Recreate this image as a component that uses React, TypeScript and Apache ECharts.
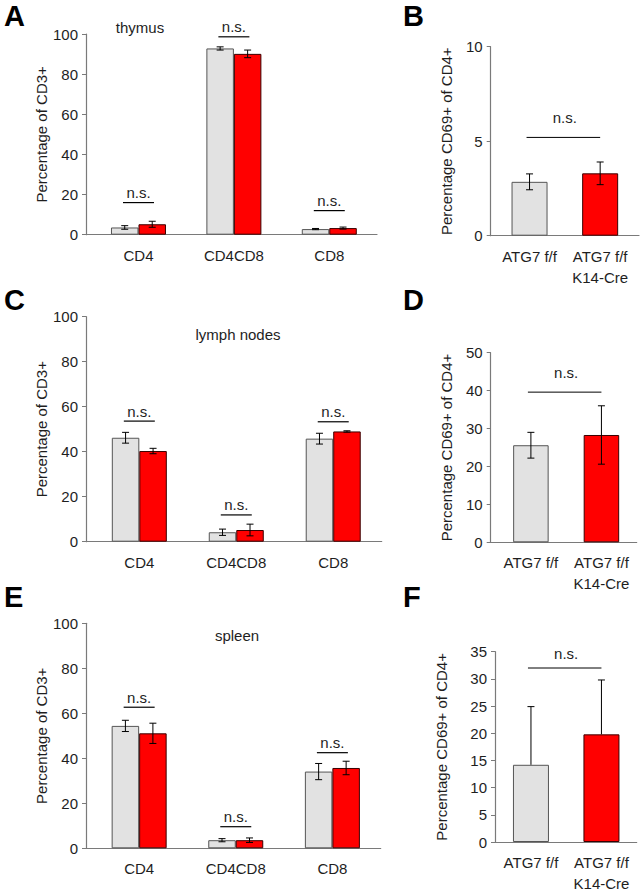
import React, { useEffect, useRef } from "react";
import * as echarts from "echarts";

// ---------- data ----------
const cellTypes = ["CD4", "CD4CD8", "CD8"];
const genotypes = ["ATG7 f/f", "ATG7 f/f\nK14-Cre"];

const thymusCtrl = [3.6, 92.8, 2.8];
const thymusCtrlErr = [0.9, 0.8, 0.3];
const thymusKO = [5.2, 90.1, 3.3];
const thymusKOErr = [1.5, 1.9, 0.5];
const thymusSig = [16, 98.6, 12];

const lymphCtrl = [46.2, 4.2, 45.8];
const lymphCtrlErr = [2.4, 1.4, 2.4];
const lymphKO = [40.3, 5.2, 49.0];
const lymphKOErr = [1.2, 2.6, 0.3];
const lymphSig = [53.6, 11.9, 53.3];

const spleenCtrl = [54.4, 3.6, 34.1];
const spleenCtrlErr = [2.5, 0.7, 3.6];
const spleenKO = [51.1, 3.6, 35.7];
const spleenKOErr = [4.5, 1.0, 3.0];
const spleenSig = [62.7, 9.6, 42.5];

const cd69Thymus = [2.85, 3.3];
const cd69ThymusErr = [0.42, 0.6];
const cd69ThymusSig = 5.2;

const cd69Lymph = [25.6, 28.3];
const cd69LymphErr = [3.4, 7.7];
const cd69LymphSig = 39.6;

const cd69Spleen = [14.2, 19.8];
const cd69SpleenErr = [10.7, 10.0];
const cd69SpleenSig = 32.0;

// ---------- styles ----------
const FONT = "Liberation Sans, Arial, Helvetica, sans-serif";
const TXT = "#1e1e1e";
const AXIS = "#7a7a7a";
const GREY = "#e2e2e2";
const GREY_B = "#555555";
const RED = "#ff0000";
const RED_B = "#3a0000";

type Group = {
  kind: "group";
  left: number; top: number; width: number; height: number;
  xMin: number; xMax: number; yMax: number; interval: number;
  ctrl: number[]; ctrlErr: number[]; ko: number[]; koErr: number[]; sig: number[];
  nameGap: number;
};
type Pair = {
  kind: "pair";
  left: number; top: number; width: number; height: number;
  xMin: number; xMax: number; yMax: number; interval: number;
  vals: number[]; errs: number[]; sig: number; oneSided: boolean;
  nameGap: number; textUp: number; barWidth: number;
};

const panels: (Group | Pair)[] = [
  { kind: "group", left: 86, top: 34, width: 291, height: 200.7, xMin: -0.55, xMax: 2.5, yMax: 100, interval: 20,
    ctrl: thymusCtrl, ctrlErr: thymusCtrlErr, ko: thymusKO, koErr: thymusKOErr, sig: thymusSig, nameGap: 37 },
  { kind: "pair", left: 490.7, top: 46.7, width: 148.3, height: 189, xMin: -0.55, xMax: 1.55, yMax: 10, interval: 5,
    vals: cd69Thymus, errs: cd69ThymusErr, sig: cd69ThymusSig, oneSided: false, nameGap: 37, textUp: 20, barWidth: 36 },
  { kind: "group", left: 86, top: 316.7, width: 295.7, height: 225, xMin: -0.55, xMax: 2.5, yMax: 100, interval: 20,
    ctrl: lymphCtrl, ctrlErr: lymphCtrlErr, ko: lymphKO, koErr: lymphKOErr, sig: lymphSig, nameGap: 37 },
  { kind: "pair", left: 490.7, top: 352.7, width: 146, height: 189.6, xMin: -0.57, xMax: 1.5, yMax: 50, interval: 10,
    vals: cd69Lymph, errs: cd69LymphErr, sig: cd69LymphSig, oneSided: false, nameGap: 37, textUp: 20, barWidth: 35.5 },
  { kind: "group", left: 86, top: 623.3, width: 294.7, height: 225, xMin: -0.55, xMax: 2.5, yMax: 100, interval: 20,
    ctrl: spleenCtrl, ctrlErr: spleenCtrlErr, ko: spleenKO, koErr: spleenKOErr, sig: spleenSig, nameGap: 37 },
  { kind: "pair", left: 495, top: 651.7, width: 141.7, height: 197.3, xMin: -0.51, xMax: 1.5, yMax: 35, interval: 5,
    vals: cd69Spleen, errs: cd69SpleenErr, sig: cd69SpleenSig, oneSided: true, nameGap: 46, textUp: 15, barWidth: 36 },
];

const panelLetters = [
  { t: "A", x: 4, y: 16 }, { t: "B", x: 403, y: 16 },
  { t: "C", x: 4, y: 300 }, { t: "D", x: 403, y: 300 },
  { t: "E", x: 4, y: 597 }, { t: "F", x: 403, y: 597 },
];
const tissueTitles = [
  { t: "thymus", x: 140, y: 27 },
  { t: "lymph nodes", x: 238, y: 334 },
  { t: "spleen", x: 237, y: 635 },
];

function errRender(offset: number) {
  return (params: any, api: any) => {
    const x = api.value(0);
    const lo = api.coord([x, api.value(1)]);
    const hi = api.coord([x, api.value(2)]);
    const cx = lo[0] + offset;
    const cap = 3.5;
    const st = { stroke: "#000", lineWidth: 1 };
    const children: any[] = [
      { type: "line", shape: { x1: cx, y1: lo[1], x2: cx, y2: hi[1] }, style: st },
      { type: "line", shape: { x1: cx - cap, y1: hi[1], x2: cx + cap, y2: hi[1] }, style: st },
    ];
    if (api.value(1) !== api.value(3)) {
      children.push({ type: "line", shape: { x1: cx - cap, y1: lo[1], x2: cx + cap, y2: lo[1] }, style: st });
    }
    return { type: "group", children };
  };
}

function buildOption() {
  const grid: any[] = [];
  const xAxis: any[] = [];
  const yAxis: any[] = [];
  const series: any[] = [];

  panels.forEach((p, i) => {
    grid.push({ left: p.left, top: p.top, width: p.width, height: p.height, containLabel: false });
    const cats = p.kind === "group" ? cellTypes : genotypes;
    xAxis.push({
      type: "value", gridIndex: i, min: p.xMin, max: p.xMax,
      axisLine: { show: true, onZero: false, lineStyle: { color: AXIS, width: 1.2 } },
      axisTick: { show: false },
      splitLine: { show: false },
      axisLabel: {
        customValues: cats.map((_, k) => k),
        formatter: (v: number) => cats[Math.round(v)] ?? "",
        color: TXT, fontFamily: FONT, fontSize: 15, margin: 10, lineHeight: 21,
      },
    });
    yAxis.push({
      type: "value", gridIndex: i, min: 0, max: p.yMax, interval: p.interval,
      name: p.kind === "group" ? "Percentage of CD3+" : "Percentage CD69+ of CD4+",
      nameLocation: "middle", nameRotate: 90, nameGap: p.nameGap,
      nameTextStyle: { color: TXT, fontFamily: FONT, fontSize: 15 },
      axisLine: { show: true, onZero: false, lineStyle: { color: AXIS, width: 1.2 } },
      axisTick: { show: true, length: 4, lineStyle: { color: AXIS } },
      splitLine: { show: false },
      axisLabel: { color: TXT, fontFamily: FONT, fontSize: 15, margin: 8 },
    });

    if (p.kind === "group") {
      const bw = 27.5;
      series.push({
        type: "bar", xAxisIndex: i, yAxisIndex: i, barWidth: bw, barGap: "0%",
        data: p.ctrl.map((v, k) => [k, v]),
        itemStyle: { color: GREY, borderColor: GREY_B, borderWidth: 1 },
      });
      series.push({
        type: "bar", xAxisIndex: i, yAxisIndex: i, barWidth: bw, barGap: "0%",
        data: p.ko.map((v, k) => [k, v]),
        itemStyle: { color: RED, borderColor: RED_B, borderWidth: 1 },
      });
      series.push({
        type: "custom", xAxisIndex: i, yAxisIndex: i, z: 5,
        encode: { x: 0, y: [1, 2] },
        data: p.ctrl.map((v, k) => [k, v - p.ctrlErr[k], v + p.ctrlErr[k], v]),
        renderItem: errRender(-bw / 2),
      });
      series.push({
        type: "custom", xAxisIndex: i, yAxisIndex: i, z: 5,
        encode: { x: 0, y: [1, 2] },
        data: p.ko.map((v, k) => [k, v - p.koErr[k], v + p.koErr[k], v]),
        renderItem: errRender(bw / 2),
      });
      series.push({
        type: "custom", xAxisIndex: i, yAxisIndex: i, z: 5,
        encode: { x: 0, y: 1 },
        data: p.sig.map((v, k) => [k, v]),
        renderItem: (params: any, api: any) => {
          const c = api.coord([api.value(0), api.value(1)]);
          return {
            type: "group",
            children: [
              { type: "line", shape: { x1: c[0] - 15.5, y1: c[1], x2: c[0] + 15.5, y2: c[1] }, style: { stroke: "#000", lineWidth: 1.2 } },
              { type: "text", x: c[0], y: c[1] - 10, style: { text: "n.s.", fill: TXT, font: `15px ${FONT}`, textAlign: "center", textVerticalAlign: "middle" } },
            ],
          };
        },
      });
    } else {
      const colors = [GREY, RED];
      const borders = [GREY_B, RED_B];
      series.push({
        type: "bar", xAxisIndex: i, yAxisIndex: i, barWidth: p.barWidth,
        data: p.vals.map((v, k) => ({ value: [k, v], itemStyle: { color: colors[k], borderColor: borders[k], borderWidth: 1 } })),
      });
      series.push({
        type: "custom", xAxisIndex: i, yAxisIndex: i, z: 5,
        encode: { x: 0, y: [1, 2] },
        data: p.vals.map((v, k) => [k, p.oneSided ? v : v - p.errs[k], v + p.errs[k], v]),
        renderItem: errRender(0),
      });
      const up = p.textUp;
      series.push({
        type: "custom", xAxisIndex: i, yAxisIndex: i, z: 5,
        encode: { x: [0, 1], y: 2 },
        data: [[0, 1, p.sig]],
        renderItem: (params: any, api: any) => {
          const a = api.coord([api.value(0), api.value(2)]);
          const b = api.coord([api.value(1), api.value(2)]);
          return {
            type: "group",
            children: [
              { type: "line", shape: { x1: a[0] - 3, y1: a[1], x2: b[0], y2: b[1] }, style: { stroke: "#000", lineWidth: 1 } },
              { type: "text", x: (a[0] + b[0]) / 2, y: a[1] - up, style: { text: "n.s.", fill: TXT, font: `15px ${FONT}`, textAlign: "center", textVerticalAlign: "middle" } },
            ],
          };
        },
      });
    }
  });

  const graphic: any[] = [
    ...panelLetters.map((l) => ({
      type: "text", x: l.x, y: l.y,
      style: { text: l.t, fill: "#000", font: `bold 29px ${FONT}`, textAlign: "left", textVerticalAlign: "middle" },
    })),
    ...tissueTitles.map((t) => ({
      type: "text", x: t.x, y: t.y,
      style: { text: t.t, fill: TXT, font: `15px ${FONT}`, textAlign: "center", textVerticalAlign: "middle" },
    })),
  ];

  return { animation: false, backgroundColor: "#ffffff", grid, xAxis, yAxis, series, graphic };
}

export default function App() {
  const ref = useRef<HTMLDivElement>(null);
  useEffect(() => {
    if (!ref.current) return;
    const chart = echarts.init(ref.current, null, { renderer: "svg" });
    chart.setOption(buildOption() as any);
    return () => chart.dispose();
  }, []);
  return (
    <div
      ref={ref}
      style={{ position: "fixed", left: 0, top: 0, width: 641, height: 894, background: "#fff" }}
    />
  );
}
